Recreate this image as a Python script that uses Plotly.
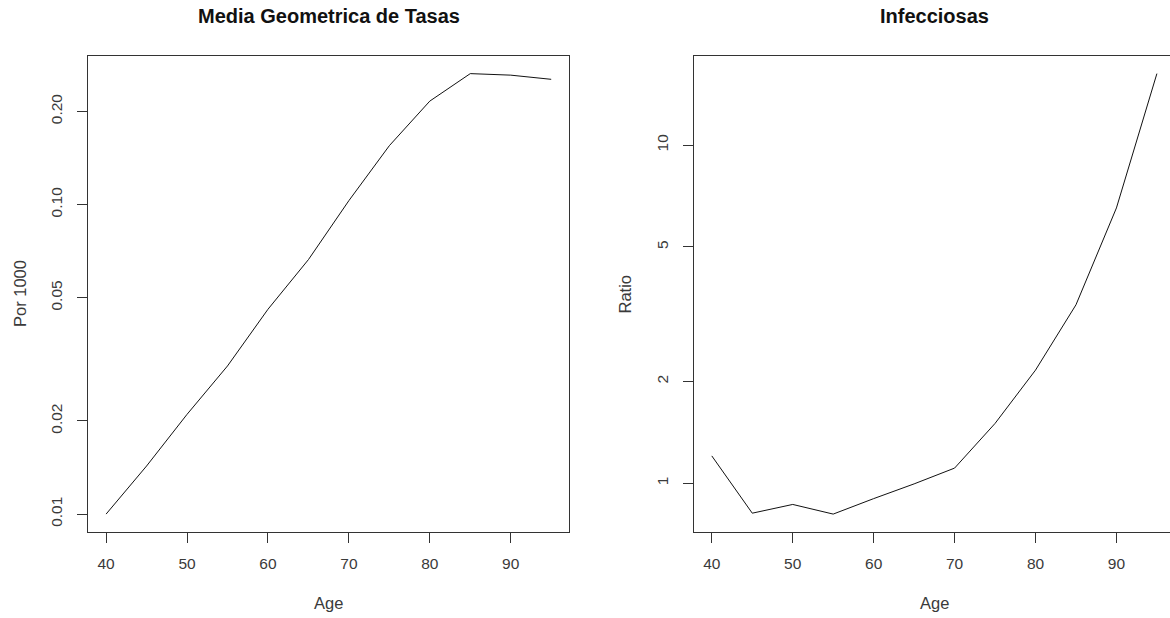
import numpy as np
import plotly.graph_objects as go

# Age groups (years)
age = [40, 45, 50, 55, 60, 65, 70, 75, 80, 85, 90, 95]

# Geometric mean of rates, per 1000
media_geometrica = [0.0100, 0.0143, 0.0210, 0.0301, 0.0459, 0.0664,
                    0.103, 0.155, 0.216, 0.265, 0.262, 0.254]

# Infectious diseases ratio
infecciosas = [1.204, 0.815, 0.865, 0.810, 0.900, 0.995,
               1.108, 1.502, 2.16, 3.37, 6.52, 16.28]

# Tick values and their labels
ticks_left = [0.01, 0.02, 0.05, 0.10, 0.20]
ticks_left_text = ["0.01", "0.02", "0.05", "0.10", "0.20"]
ticks_right = [1, 2, 5, 10]
ticks_right_text = ["1", "2", "5", "10"]
ticks_age = [40, 50, 60, 70, 80, 90]

W, H = 1170, 618
FONT = "Liberation Sans, Arial, Helvetica, sans-serif"
TXT = "#3a3a3a"
AX = "#333333"


def log_range(vals, pad=0.04):
    lo, hi = np.log10(min(vals)), np.log10(max(vals))
    d = (hi - lo) * pad
    return [lo - d, hi + d]


# panel geometry in pixels
L_X0, L_X1 = 88.3, 569.0
R_X0 = 694.0
Y_TOP, Y_BOT = 56.0, 531.7

x_lo = min(age) - (max(age) - min(age)) * 0.04
x_hi = max(age) + (max(age) - min(age)) * 0.04
px_per_year = (L_X1 - L_X0) / (x_hi - x_lo)
x2_hi = x_lo + (W - R_X0) / px_per_year

fig = go.Figure()
fig.add_trace(go.Scatter(x=age, y=media_geometrica, mode="lines",
                         line=dict(color="#111111", width=1),
                         xaxis="x", yaxis="y", showlegend=False))
fig.add_trace(go.Scatter(x=age, y=infecciosas, mode="lines",
                         line=dict(color="#111111", width=1),
                         xaxis="x2", yaxis="y2", showlegend=False))

tickfont = dict(family=FONT, size=15.5, color=TXT)
ydom = [1 - Y_BOT / H, 1 - Y_TOP / H]

common_x = dict(showline=True, linecolor=AX, linewidth=1, mirror=True,
                ticks="outside", ticklen=10, tickcolor=AX, tickwidth=1,
                showgrid=False, zeroline=False, tickfont=tickfont,
                tickvals=ticks_age, ticklabelstandoff=8)
common_y = dict(type="log", showline=True, linecolor=AX, linewidth=1,
                ticks="outside", ticklen=10, tickcolor=AX, tickwidth=1,
                showgrid=False, zeroline=False, tickfont=tickfont,
                tickangle=-90, domain=ydom, ticklabelstandoff=9)

fig.update_layout(
    width=W, height=H,
    margin=dict(l=0, r=0, t=0, b=0),
    paper_bgcolor="white", plot_bgcolor="white",
    xaxis=dict(domain=[L_X0 / W, L_X1 / W], range=[x_lo, x_hi],
               anchor="y", **common_x),
    yaxis=dict(anchor="x", range=log_range(media_geometrica), mirror=True,
               tickvals=ticks_left, ticktext=ticks_left_text, **common_y),
    xaxis2=dict(domain=[R_X0 / W, 1.0], range=[x_lo, x2_hi],
                anchor="y2", **common_x),
    yaxis2=dict(anchor="x2", range=log_range(infecciosas), mirror=False,
                tickvals=ticks_right, ticktext=ticks_right_text, **common_y),
)

ann = []
# panel titles
ann.append(dict(text="<b>Media Geometrica de Tasas</b>", x=(L_X0 + L_X1) / 2 / W,
                y=1 - 16 / H, font=dict(family=FONT, size=20, color="#111111")))
ann.append(dict(text="<b>Infecciosas</b>", x=(R_X0 + R_X0 + (L_X1 - L_X0)) / 2 / W,
                y=1 - 16 / H, font=dict(family=FONT, size=20, color="#111111")))
# axis titles
for xc in [(L_X0 + L_X1) / 2, R_X0 + (L_X1 - L_X0) / 2]:
    ann.append(dict(text="Age", x=xc / W, y=1 - 603 / H,
                    font=dict(family=FONT, size=16.5, color=TXT)))
ann.append(dict(text="Por 1000", x=20 / W, y=1 - 294 / H, textangle=-90,
                font=dict(family=FONT, size=16.5, color=TXT)))
ann.append(dict(text="Ratio", x=624.5 / W, y=1 - 294 / H, textangle=-90,
                font=dict(family=FONT, size=16.5, color=TXT)))
for a in ann:
    a.update(xref="paper", yref="paper", showarrow=False,
             xanchor="center", yanchor="middle")
fig.update_layout(annotations=ann)

fig.write_html("out.html")
